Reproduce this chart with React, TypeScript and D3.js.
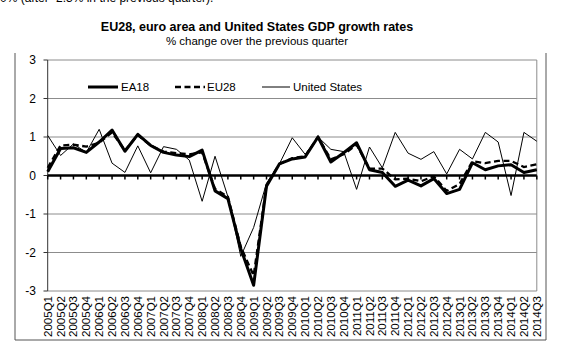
import React from 'react';
import * as d3 from 'd3';

const quarters = [
  '2005Q1', '2005Q2', '2005Q3', '2005Q4', '2006Q1', '2006Q2', '2006Q3', '2006Q4',
  '2007Q1', '2007Q2', '2007Q3', '2007Q4', '2008Q1', '2008Q2', '2008Q3', '2008Q4',
  '2009Q1', '2009Q2', '2009Q3', '2009Q4', '2010Q1', '2010Q2', '2010Q3', '2010Q4',
  '2011Q1', '2011Q2', '2011Q3', '2011Q4', '2012Q1', '2012Q2', '2012Q3', '2012Q4',
  '2013Q1', '2013Q2', '2013Q3', '2013Q4', '2014Q1', '2014Q2', '2014Q3',
];

const ea18 = [
  0.1, 0.7, 0.72, 0.6, 0.87, 1.18, 0.63, 1.07, 0.78, 0.6, 0.53, 0.49, 0.66, -0.4, -0.6, -1.9,
  -2.85, -0.28, 0.3, 0.43, 0.48, 1.0, 0.35, 0.59, 0.85, 0.15, 0.08, -0.28, -0.12, -0.27, -0.08,
  -0.47, -0.36, 0.33, 0.15, 0.25, 0.28, 0.08, 0.15,
];

const eu28 = [
  0.2, 0.78, 0.8, 0.75, 0.85, 1.12, 0.65, 1.05, 0.78, 0.62, 0.58, 0.55, 0.6, -0.35, -0.55, -1.85,
  -2.6, -0.25, 0.3, 0.45, 0.5, 1.0, 0.42, 0.55, 0.8, 0.18, 0.18, -0.1, -0.08, -0.15, -0.02,
  -0.4, -0.22, 0.37, 0.32, 0.38, 0.38, 0.22, 0.29,
];

const unitedStates = [
  1.04, 0.52, 0.82, 0.6, 1.2, 0.32, 0.08, 0.77, 0.07, 0.75, 0.68, 0.4, -0.67, 0.5, -0.55, -2.1,
  -1.35, -0.2, 0.3, 0.98, 0.55, 1.0, 0.68, 0.62, -0.36, 0.74, 0.2, 1.12, 0.58, 0.42, 0.62,
  0.04, 0.68, 0.43, 1.12, 0.87, -0.52, 1.12, 0.89,
];

const yTicks = [-3, -2, -1, 0, 1, 2, 3];

const font = '"Liberation Sans", Arial, sans-serif';

export default function App() {
  const width = 570;
  const height = 353;

  const x = d3.scalePoint<string>().domain(quarters).range([47.7, 536.8]);
  const y = d3.scaleLinear().domain([-3, 3]).range([291, 60]);

  const line = d3
    .line<number>()
    .x((_d, i) => x(quarters[i]) as number)
    .y((d) => y(d));

  // legend sits inside the plot, just under the "2" gridline
  const legendY = 87;

  return (
    <div style={{ position: 'absolute', left: 0, top: 0 }}>
      <svg width={width} height={height} style={{ display: 'block', background: '#fff' }}>
        <text x={0} y={2} fontFamily={font} fontSize={12} fill="#000">
          0% (after -2.3% in the previous quarter).
        </text>

        {/* outer frame */}
        <line x1={15} x2={15} y1={53} y2={340} stroke="#555" strokeWidth={1} />
        <line x1={546} x2={546} y1={53} y2={340} stroke="#555" strokeWidth={1} />
        <line x1={15} x2={546} y1={340} y2={340} stroke="#555" strokeWidth={1} />

        <text x={257} y={31} textAnchor="middle" fontFamily={font} fontWeight="bold" fontSize={12.5}>
          EU28, euro area and United States GDP growth rates
        </text>
        <text x={257} y={45} textAnchor="middle" fontFamily={font} fontSize={11.5}>
          % change over the previous quarter
        </text>

        {/* gridlines */}
        {yTicks
          .filter((t) => t !== 0)
          .map((t) => (
            <line key={t} x1={47.7} x2={536.8} y1={y(t)} y2={y(t)} stroke="#8c8c8c" strokeWidth={1} />
          ))}
        <line x1={536.8} x2={536.8} y1={y(3)} y2={y(-3)} stroke="#8c8c8c" strokeWidth={1} />

        {/* y axis */}
        <line x1={47.7} x2={47.7} y1={y(3)} y2={y(-3)} stroke="#333" strokeWidth={1} />
        {yTicks.map((t) => (
          <g key={t}>
            <line x1={43.5} x2={47.7} y1={y(t)} y2={y(t)} stroke="#333" strokeWidth={1} />
            <text x={36} y={y(t)} dy="0.35em" textAnchor="end" fontFamily={font} fontSize={12}>
              {t}
            </text>
          </g>
        ))}

        {/* x labels */}
        {quarters.map((q) => (
          <text
            key={q}
            transform={`translate(${x(q)},${296}) rotate(-90)`}
            dy="0.35em"
            textAnchor="end"
            fontFamily={font}
            fontSize={11.5}
          >
            {q}
          </text>
        ))}

        {/* series */}
        <path d={line(unitedStates) ?? ''} fill="none" stroke="#000" strokeWidth={1} />
        <path d={line(eu28) ?? ''} fill="none" stroke="#000" strokeWidth={2.3} strokeDasharray="6,3.5" />
        <path d={line(ea18) ?? ''} fill="none" stroke="#000" strokeWidth={3} strokeLinejoin="round" />

        {/* zero axis with category ticks */}
        <line x1={47.7} x2={536.8} y1={y(0)} y2={y(0)} stroke="#000" strokeWidth={2.5} />
        {quarters.map((q) => (
          <line key={q} x1={x(q)} x2={x(q)} y1={y(0)} y2={y(0) + 4} stroke="#000" strokeWidth={1.5} />
        ))}

        {/* legend */}
        <g fontFamily={font} fontSize={11.5}>
          <line x1={88} x2={118} y1={legendY} y2={legendY} stroke="#000" strokeWidth={3} />
          <text x={121} y={legendY} dy="0.35em">EA18</text>
          <line x1={175} x2={205} y1={legendY} y2={legendY} stroke="#000" strokeWidth={2.3} strokeDasharray="6,3.5" />
          <text x={207} y={legendY} dy="0.35em">EU28</text>
          <line x1={262} x2={290} y1={legendY} y2={legendY} stroke="#000" strokeWidth={1} />
          <text x={293} y={legendY} dy="0.35em">United States</text>
        </g>
      </svg>
    </div>
  );
}
